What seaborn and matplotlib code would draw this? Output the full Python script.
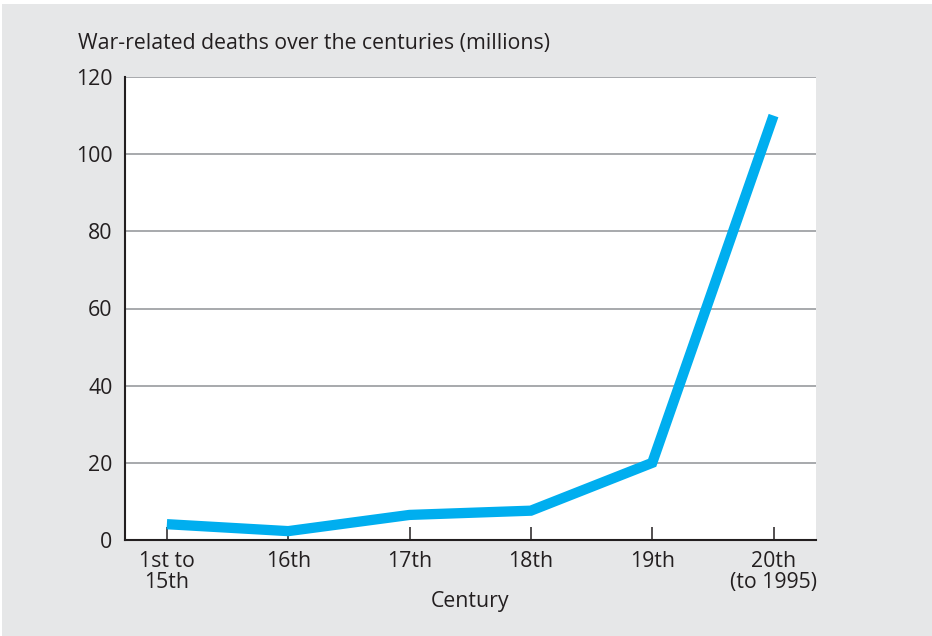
import matplotlib
matplotlib.use("Agg")
import matplotlib.pyplot as plt
from matplotlib.patches import Rectangle
import seaborn as sns
import pandas as pd

# Data: war-related deaths per period (millions)
centuries = ["1st to\n15th", "16th", "17th", "18th", "19th", "20th\n(to 1995)"]
deaths = [4.1, 2.3, 6.5, 7.6, 20.0, 110.0]
y_ticks = [0, 20, 40, 60, 80, 100, 120]

df = pd.DataFrame({"pos": range(len(centuries)), "deaths": deaths})

sns.set_theme(style="white")
plt.rcParams["font.family"] = ["Open Sans", "DejaVu Sans"]

TEXT = "#231f20"
GRID = "#a7a9ac"
PANEL = "#e6e7e8"
LINE = "#00aeef"
FS = 15.3

fig = plt.figure(figsize=(9.32, 6.36), dpi=100, facecolor="white")
fig.add_artist(Rectangle((2 / 932, 0), 1, (636 - 4) / 636,
                         transform=fig.transFigure, facecolor=PANEL,
                         edgecolor="none", zorder=-10))

ax = fig.add_axes([125 / 932, (636 - 540) / 636, (816 - 125) / 932, (540 - 77) / 636])
ax.set_facecolor("white")

sns.lineplot(data=df, x="pos", y="deaths", ax=ax, color=LINE, linewidth=7.4,
             solid_capstyle="butt", solid_joinstyle="miter", zorder=3)

ax.set_xlim(-0.345, 5.35)
ax.set_ylim(0, 120)
ax.set_yticks(y_ticks)
ax.set_yticklabels([str(v) for v in y_ticks])
ax.set_xticks(range(len(centuries)))
ax.set_xticklabels(centuries, linespacing=1.02)

for v in y_ticks[1:]:
    ax.axhline(v, color=GRID, linewidth=1.4, zorder=1)

for side in ("top", "right"):
    ax.spines[side].set_visible(False)
for side in ("left", "bottom"):
    ax.spines[side].set_color(TEXT)
    ax.spines[side].set_linewidth(1.5)
    ax.spines[side].set_zorder(4)

ax.tick_params(axis="x", direction="in", length=9.5, width=1.1, color=TEXT,
               labelsize=FS, labelcolor=TEXT, pad=8, bottom=True)
ax.tick_params(axis="y", length=0, labelsize=FS, labelcolor=TEXT, pad=9, left=True)

ax.set_xlabel("Century", fontsize=FS, color=TEXT, labelpad=-2)
ax.set_ylabel("")

fig.text(78 / 932, 1 - 43 / 636, "War-related deaths over the centuries (millions)",
         fontsize=FS, color=TEXT, ha="left", va="center")

fig.savefig("out.png", dpi=100, facecolor=fig.get_facecolor())
